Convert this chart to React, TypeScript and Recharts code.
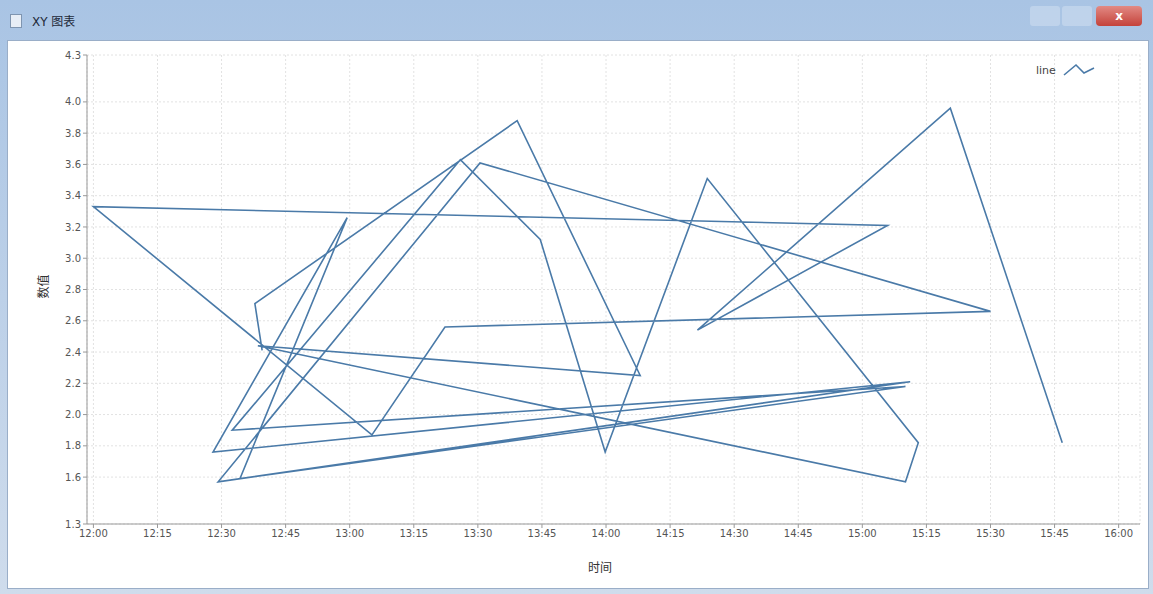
import { LineChart, Line, XAxis, YAxis, CartesianGrid } from 'recharts';

// minutes after 12:00, in the order the series was added (not sorted)
const minutes = [
  226.8, 200.6, 141.4, 185.9, 0, 65.2, 82.3, 210.0, 90.5, 29.2, 191.2, 28.0, 59.4, 34.3,
  190.1, 32.5, 85.9, 104.6, 119.8, 143.7, 193.1, 190.1, 38.5, 128.0, 99.2, 37.8, 39.5,
];
const values = [
  1.82, 3.96, 2.54, 3.21, 3.33, 1.87, 2.56, 2.66, 3.61, 1.57, 2.21, 1.76, 3.26, 1.59,
  2.18, 1.9, 3.63, 3.12, 1.76, 3.51, 1.82, 1.57, 2.44, 2.25, 3.88, 2.71, 2.41,
];
const xTicks = [0, 15, 30, 45, 60, 75, 90, 105, 120, 135, 150, 165, 180, 195, 210, 225, 240];
const yTicks = [1.3, 1.6, 1.8, 2.0, 2.2, 2.4, 2.6, 2.8, 3.0, 3.2, 3.4, 3.6, 3.8, 4.0, 4.3];

const data = minutes.map((m, i) => ({ t: m, v: values[i] }));

const fmtTime = (m: number) => {
  const h = 12 + Math.floor(m / 60);
  const mm = Math.round(m % 60);
  return `${h}:${mm < 10 ? '0' + mm : mm}`;
};

const font = '"DejaVu Sans", "Noto Sans CJK SC", sans-serif';

export default function App() {
  return (
    <div
      style={{
        position: 'absolute',
        left: 0,
        top: 0,
        width: 1153,
        height: 594,
        background: 'linear-gradient(#a9c4e4, #cfdcec)',
        fontFamily: font,
        overflow: 'hidden',
      }}
    >
      {/* title bar */}
      <div style={{ position: 'absolute', left: 10, top: 14, width: 10, height: 12, border: '1px solid #7f95b0', background: '#e8eef6' }} />
      <div style={{ position: 'absolute', left: 32, top: 12, fontSize: 12, color: '#1e2a3a' }}>XY 图表</div>
      <div style={{ position: 'absolute', left: 1030, top: 6, width: 30, height: 20, borderRadius: 3, background: 'rgba(255,255,255,0.25)' }} />
      <div style={{ position: 'absolute', left: 1062, top: 6, width: 30, height: 20, borderRadius: 3, background: 'rgba(255,255,255,0.25)' }} />
      <div
        style={{
          position: 'absolute', left: 1096, top: 6, width: 46, height: 20, borderRadius: 4,
          background: 'linear-gradient(#e28a84, #c4423a)', color: '#fff', fontSize: 12,
          textAlign: 'center', lineHeight: '20px', fontWeight: 'bold',
        }}
      >
        x
      </div>
      {/* content panel */}
      <div
        style={{
          position: 'absolute', left: 7, top: 40, width: 1140, height: 547,
          background: '#ffffff', border: '1px solid #9aaec8',
        }}
      />
      <div style={{ position: 'absolute', left: 0, top: 0 }}>
        <LineChart
          width={1153}
          height={594}
          data={data}
          margin={{ top: 55, right: 13, left: 47, bottom: 40 }}
        >
          <CartesianGrid stroke="#e2e2e2" strokeDasharray="2 2" />
          <XAxis
            dataKey="t"
            type="number"
            domain={[-1.5, 245]}
            ticks={xTicks}
            tickFormatter={fmtTime}
            height={30}
            interval={0}
            allowDataOverflow
            stroke="#999"
            tick={{ fontSize: 10, fill: '#555' }}
            tickSize={4}
          />
          <YAxis
            dataKey="v"
            type="number"
            domain={[1.3, 4.3]}
            ticks={yTicks}
            tickFormatter={(v: number) => v.toFixed(1)}
            width={40}
            interval={0}
            allowDataOverflow
            stroke="#999"
            tick={{ fontSize: 10, fill: '#555' }}
            tickSize={4}
          />
          <Line
            type="linear"
            dataKey="v"
            stroke="#4a7aa8"
            strokeWidth={1.6}
            dot={false}
            isAnimationActive={false}
          />
        </LineChart>
      </div>
      {/* axis titles */}
      <div style={{ position: 'absolute', left: 588, top: 558, fontSize: 12, color: '#333' }}>时间</div>
      <div
        style={{
          position: 'absolute', left: 30, top: 278, fontSize: 12, color: '#333',
          transform: 'rotate(-90deg)', transformOrigin: 'center',
        }}
      >
        数值
      </div>
      {/* legend */}
      <div style={{ position: 'absolute', left: 1036, top: 62, display: 'flex', alignItems: 'center', fontSize: 11, color: '#444' }}>
        <span>line</span>
        <svg width={34} height={16} style={{ marginLeft: 6 }}>
          <polyline points="2,13 14,3 22,11 32,6" fill="none" stroke="#4a7aa8" strokeWidth={1.6} />
        </svg>
      </div>
    </div>
  );
}
